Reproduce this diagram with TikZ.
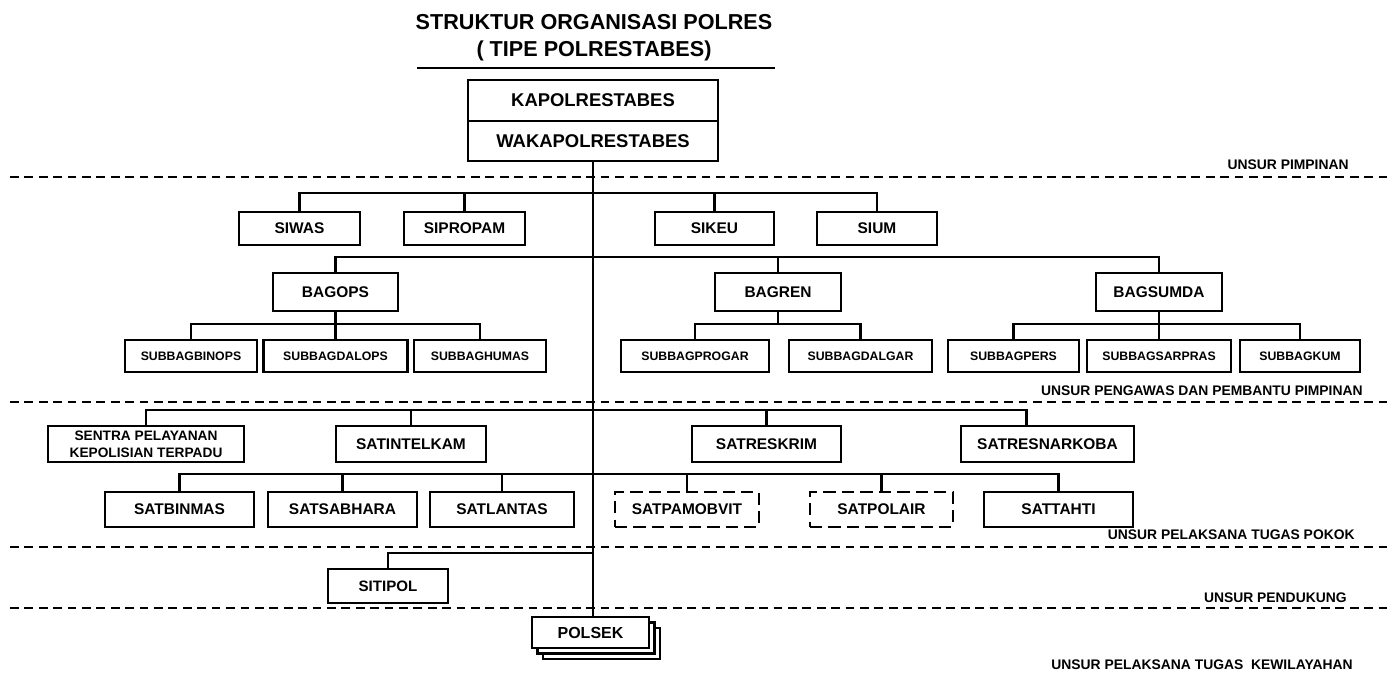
\documentclass[tikz,border=0pt]{standalone}
\usepackage{fontspec}
\setmainfont{Liberation Sans}
\usetikzlibrary{positioning}
\usetikzlibrary{shadows}

\tikzset{
  box/.style={draw, line width=1.4pt, fill=white, inner sep=0pt, outer sep=0pt,
    font=\bfseries\fontsize{8.8}{10}\selectfont},
  dbox/.style={box, dash pattern=on 7pt off 3.5pt},
  subbox/.style={box, minimum height=0.64cm, font=\bfseries\fontsize{7}{8}\selectfont},
  link/.style={line width=1.4pt},
  sep/.style={line width=1.1pt, dash pattern=on 5pt off 3.2pt},
  unsur/.style={anchor=east, inner sep=0pt, font=\bfseries\fontsize{7.9}{9}\selectfont}
}

\begin{document}
\begin{tikzpicture}[x=0.02cm, y=-0.02cm]
\useasboundingbox (0,0) rectangle (1392,675);

\draw[sep] (10,177) -- (1392,177);
\draw[sep] (10,402) -- (1392,402);
\draw[sep] (10,547) -- (1392,547);
\draw[sep] (10,608) -- (1392,608);

\node[align=center, font=\bfseries\fontsize{12.3}{15.3}\selectfont] (title) at (594,38) {STRUKTUR ORGANISASI POLRES\\( TIPE POLRESTABES)};
\draw[line width=1.5pt] (417,68) -- (775,68);

\node[box, minimum width=5cm, minimum height=0.82cm, font=\bfseries\fontsize{10.5}{12}\selectfont] (kapol) at (593,100.5) {KAPOLRESTABES};
\node[box, minimum width=5cm, minimum height=0.8cm, font=\bfseries\fontsize{10.5}{12}\selectfont, below=0pt of kapol] (wakapol) {WAKAPOLRESTABES};

\node[box, minimum width=2.42cm, minimum height=0.66cm] (siwas) at (299.5,228.5) {SIWAS};
\node[box, minimum width=2.42cm, minimum height=0.66cm] (sipropam) at (464.5,228.5) {SIPROPAM};
\node[box, minimum width=2.38cm, minimum height=0.66cm] (sikeu) at (714.5,228.5) {SIKEU};
\node[box, minimum width=2.4cm, minimum height=0.66cm] (sium) at (877,228.5) {SIUM};

\node[box, minimum width=2.5cm, minimum height=0.76cm] (bagops) at (335.5,292) {BAGOPS};
\node[box, minimum width=2.52cm, minimum height=0.76cm] (bagren) at (778,292) {BAGREN};
\node[box, minimum width=2.52cm, minimum height=0.76cm] (bagsumda) at (1159,292) {BAGSUMDA};

\node[subbox, minimum width=2.64cm] (binops) at (191,356) {SUBBAGBINOPS};
\node[subbox, minimum width=2.88cm] (dalops) at (335.5,356) {SUBBAGDALOPS};
\node[subbox, minimum width=2.64cm] (humas) at (480,356) {SUBBAGHUMAS};
\node[subbox, minimum width=2.96cm] (progar) at (695,356) {SUBBAGPROGAR};
\node[subbox, minimum width=2.86cm] (dalgar) at (860.5,356) {SUBBAGDALGAR};
\node[subbox, minimum width=2.62cm] (pers) at (1013.5,356) {SUBBAGPERS};
\node[subbox, minimum width=2.88cm] (sarpras) at (1159,356) {SUBBAGSARPRAS};
\node[subbox, minimum width=2.4cm] (kum) at (1300,356) {SUBBAGKUM};

\node[box, minimum width=3.92cm, minimum height=0.72cm, align=center, font=\bfseries\fontsize{7.8}{9.5}\selectfont] (sentra) at (146,444) {SENTRA PELAYANAN\\KEPOLISIAN TERPADU};
\node[box, minimum width=3cm, minimum height=0.72cm] (satintelkam) at (411,444) {SATINTELKAM};
\node[box, minimum width=2.98cm, minimum height=0.72cm] (satreskrim) at (766.5,444) {SATRESKRIM};
\node[box, minimum width=3.46cm, minimum height=0.72cm] (satresnarkoba) at (1047.5,444) {SATRESNARKOBA};

\node[box, minimum width=2.98cm, minimum height=0.7cm] (satbinmas) at (179.5,509.5) {SATBINMAS};
\node[box, minimum width=2.98cm, minimum height=0.7cm] (satsabhara) at (342.5,509.5) {SATSABHARA};
\node[box, minimum width=2.88cm, minimum height=0.7cm] (satlantas) at (502,509.5) {SATLANTAS};
\node[dbox, minimum width=2.88cm, minimum height=0.7cm] (satpamobvit) at (687,509.5) {SATPAMOBVIT};
\node[dbox, minimum width=2.86cm, minimum height=0.7cm] (satpolair) at (881.5,509.5) {SATPOLAIR};
\node[box, minimum width=2.98cm, minimum height=0.7cm] (sattahti) at (1058.5,509.5) {SATTAHTI};

\node[box, minimum width=2.4cm, minimum height=0.68cm, font=\bfseries\fontsize{8.6}{10}\selectfont] (sitipol) at (388,586) {SITIPOL};
\node[box, minimum width=2.34cm, minimum height=0.62cm, font=\bfseries\fontsize{9.1}{10}\selectfont,
  double copy shadow={shadow xshift=0.11cm, shadow yshift=-0.11cm}] (polsek) at (590.5,632.5) {POLSEK};

\node[unsur] (lpimpinan) at (1349,165) {UNSUR PIMPINAN};
\node[unsur] (lpembantu) at (1363,391) {UNSUR PENGAWAS DAN PEMBANTU PIMPINAN};
\node[unsur] (lpokok) at (1355,535) {UNSUR PELAKSANA TUGAS POKOK};
\node[unsur] (lpendukung) at (1347,598) {UNSUR PENDUKUNG};
\node[unsur] (lwilayah) at (1353,665) {UNSUR PELAKSANA TUGAS\ \ KEWILAYAHAN};

\coordinate (bus1) at (593,193);
\coordinate (bus2) at (593,257);
\coordinate (bus3a) at (335.5,324);
\coordinate (bus3b) at (778,324);
\coordinate (bus3c) at (1159,324);
\coordinate (bus4) at (593,410);
\coordinate (bus5) at (593,474);
\coordinate (bus6) at (593,553);

\draw[link] (wakapol.south) -- (wakapol.south |- polsek.north);

\draw[link] (siwas.north) |- (bus1) -| (sium.north);
\draw[link] (sipropam.north) -- (sipropam.north |- bus1);
\draw[link] (sikeu.north) -- (sikeu.north |- bus1);

\draw[link] (bagops.north) |- (bus2) -| (bagsumda.north);
\draw[link] (bagren.north) -- (bagren.north |- bus2);

\draw[link] (bagops.south) -- (dalops.north);
\draw[link] (binops.north) |- (bus3a) -| (humas.north);
\draw[link] (bagren.south) -- (bus3b);
\draw[link] (progar.north) |- (bus3b) -| (dalgar.north);
\draw[link] (bagsumda.south) -- (sarpras.north);
\draw[link] (pers.north) |- (bus3c) -| (kum.north);

\draw[link] (sentra.north) |- (bus4) -| ([xshift=-0.42cm]satresnarkoba.north);
\draw[link] (satintelkam.north) -- (satintelkam.north |- bus4);
\draw[link] (satreskrim.north) -- (satreskrim.north |- bus4);

\draw[link] (satbinmas.north) |- (bus5) -| (sattahti.north);
\draw[link] (satsabhara.north) -- (satsabhara.north |- bus5);
\draw[link] (satlantas.north) -- (satlantas.north |- bus5);
\draw[link] (satpamobvit.north) -- (satpamobvit.north |- bus5);
\draw[link] (satpolair.north) -- (satpolair.north |- bus5);

\draw[link] (sitipol.north) |- (bus6);
\end{tikzpicture}
\end{document}
